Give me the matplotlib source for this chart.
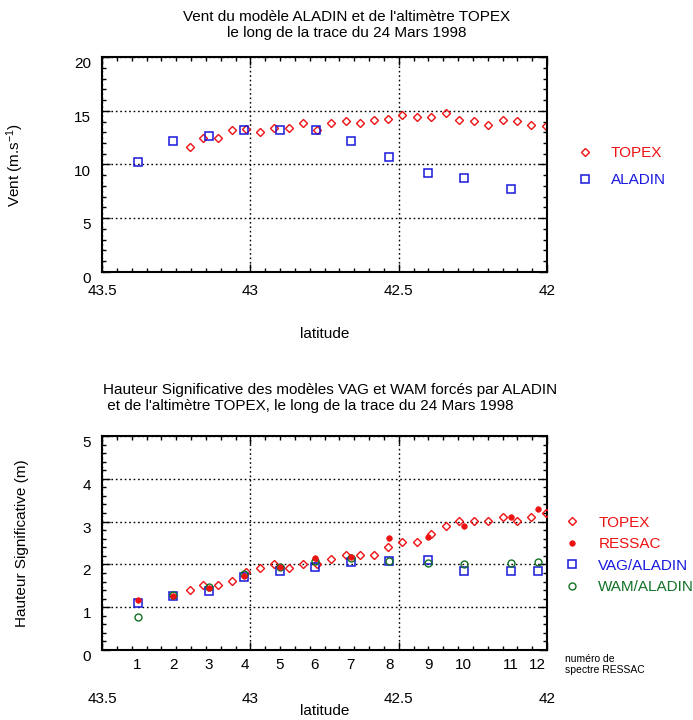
import matplotlib
matplotlib.use("Agg")
import matplotlib.pyplot as plt
from matplotlib.ticker import MultipleLocator

plt.rcParams['font.family'] = ['Liberation Sans', 'DejaVu Sans']
plt.rcParams['mathtext.default'] = 'regular'

# ---------------- data ----------------
topex_lat = [43.204, 43.159, 43.110, 43.063, 43.016, 42.966, 42.920, 42.870, 42.822,
             42.775, 42.727, 42.678, 42.630, 42.583, 42.536, 42.488, 42.438, 42.390,
             42.342, 42.295, 42.245, 42.198, 42.149, 42.102, 42.053, 42.005]
topex_wind = [11.6, 12.5, 12.5, 13.2, 13.35, 13.0, 13.45, 13.45, 13.9,
              13.2, 13.9, 14.1, 13.9, 14.15, 14.25, 14.65, 14.4, 14.45,
              14.8, 14.15, 14.05, 13.7, 14.15, 14.05, 13.7, 13.6]
topex_hs = [1.40, 1.52, 1.52, 1.61, 1.83, 1.91, 2.02, 1.91, 2.02,
            2.00, 2.12, 2.21, 2.21, 2.21, 2.41, 2.52, 2.52, 2.71,
            2.90, 3.02, 3.02, 3.02, 3.11, 3.02, 3.11, 3.21]

aladin_lat = [43.380, 43.260, 43.140, 43.020, 42.900, 42.780, 42.660, 42.531, 42.401, 42.281, 42.120]
aladin_wind = [10.2, 12.2, 12.7, 13.2, 13.2, 13.2, 12.2, 10.7, 9.2, 8.7, 7.7]

ressac_lat = [43.380, 43.260, 43.140, 43.020, 42.900, 42.783, 42.662, 42.531, 42.401, 42.281, 42.121, 42.031]
ressac_hs = [1.17, 1.26, 1.46, 1.74, 1.95, 2.16, 2.18, 2.62, 2.64, 2.90, 3.10, 3.29]
vag_hs = [1.09, 1.26, 1.39, 1.70, 1.85, 1.93, 2.05, 2.08, 2.11, 1.85, 1.85, 1.85]
wam_hs = [0.78, 1.28, 1.48, 1.78, 1.95, 2.09, 2.14, 2.08, 2.04, 2.02, 2.04, 2.06]
spectre_labels = ['1', '2', '3', '4', '5', '6', '7', '8', '9', '10', '11', '12']

lat_ticks = [43.5, 43.0, 42.5, 42.0]
lat_labels = ['43.5', '43', '42.5', '42']
wind_ticks = [0, 5, 10, 15, 20]
hs_ticks = [0, 1, 2, 3, 4, 5]

RED = '#ee1111'
BLUE = '#1818dd'
GREEN = '#137226'

W, H = 693, 720
fig = plt.figure(figsize=(W / 100, H / 100), dpi=100)

def style_axes(ax, yminor):
    ax.set_xlim(43.5, 42.0)
    ax.xaxis.set_minor_locator(MultipleLocator(0.05))
    ax.yaxis.set_minor_locator(MultipleLocator(yminor))
    ax.tick_params(which='both', direction='in', top=True, right=True, width=1,
                   labelsize=11)
    ax.tick_params(which='major', length=6)
    ax.tick_params(which='minor', length=3)
    for s in ax.spines.values():
        s.set_linewidth(1.5)
    ax.grid(True, which='major', color='k', linestyle=(0, (1.2, 2.0)), linewidth=1)
    ax.set_axisbelow(True)

# ---------------- top panel ----------------
ax1 = fig.add_axes([102 / W, 1 - 271.7 / H, 445 / W, 214.4 / H])
style_axes(ax1, 1)
ax1.set_ylim(0, 20)
ax1.set_xticks(lat_ticks, lat_labels)
ax1.set_yticks(wind_ticks, [str(t) for t in wind_ticks], va='top')
ax1.tick_params(axis='x', which='major', pad=8.5)
ax1.tick_params(axis='y', which='major', pad=8)

ax1.plot(topex_lat, topex_wind, linestyle='none', marker='D', ms=4.5, mfc='none',
         mec=RED, mew=1, label='TOPEX')
ax1.plot(aladin_lat, aladin_wind, linestyle='none', marker='s', ms=6.2, mfc='none',
         mec=BLUE, mew=1.1, label='ALADIN')

ax1.set_xlabel('latitude', fontsize=11)
ax1.xaxis.set_label_coords(0.5, -0.258)
ax1.set_ylabel('Vent (m.s$^{-1}$)', fontsize=11)
ax1.yaxis.set_label_coords(-0.170, 0.5)

ax1.legend(loc='center left', bbox_to_anchor=(1.068, 0.491), frameon=False,
           fontsize=11, handlelength=1.0, handletextpad=1.2, labelspacing=0.85,
           borderpad=0, borderaxespad=0, numpoints=1, labelcolor=[RED, BLUE])

fig.text(346.5 / W, 1 - 25 / H,
         "Vent du modèle ALADIN et de l'altimètre TOPEX\nle long de la trace du 24 Mars 1998",
         ha='center', va='center', fontsize=11, linespacing=1.15)

# ---------------- bottom panel ----------------
ax2 = fig.add_axes([102 / W, 1 - 650 / H, 445 / W, 214 / H])
style_axes(ax2, 0.2)
ax2.set_ylim(0, 5)
ax2.set_xticks(lat_ticks, lat_labels)
ax2.set_yticks(hs_ticks, [str(t) for t in hs_ticks], va='top')
ax2.tick_params(axis='x', which='major', pad=30)
ax2.tick_params(axis='y', which='major', pad=8)

ax2.plot(topex_lat, topex_hs, linestyle='none', marker='D', ms=4.3, mfc='none',
         mec=RED, mew=1, label='TOPEX', zorder=3)
ax2.plot(ressac_lat, ressac_hs, linestyle='none', marker='o', ms=4, mfc=RED,
         mec=RED, mew=0.5, label='RESSAC', zorder=4)
ax2.plot(ressac_lat, vag_hs, linestyle='none', marker='s', ms=6, mfc='none',
         mec=BLUE, mew=1.1, label='VAG/ALADIN', zorder=3)
ax2.plot(ressac_lat, wam_hs, linestyle='none', marker='o', ms=5, mfc='none',
         mec=GREEN, mew=1, label='WAM/ALADIN', zorder=3)

sec = ax2.secondary_xaxis('bottom')
sec.set_xticks(ressac_lat, spectre_labels)
sec.tick_params(length=0, pad=6, labelsize=11)
sec.spines['bottom'].set_visible(False)

ax2.set_xlabel('latitude', fontsize=11)
ax2.xaxis.set_label_coords(0.5, -0.252)
ax2.set_ylabel('Hauteur Significative (m)', fontsize=11)
ax2.yaxis.set_label_coords(-0.163, 0.5)

ax2.legend(loc='center left', bbox_to_anchor=(1.040, 0.444), frameon=False,
           fontsize=11, handlelength=1.0, handletextpad=1.2, labelspacing=0.5,
           borderpad=0, borderaxespad=0, numpoints=1,
           labelcolor=[RED, RED, BLUE, GREEN])

ax2.text(1.04, -0.068, 'numéro de\nspectre RESSAC', transform=ax2.transAxes,
         ha='left', va='center', fontsize=7.5, linespacing=1.2)

fig.text(103 / W, 1 - 398 / H,
         "Hauteur Significative des modèles VAG et WAM forcés par ALADIN\n"
         " et de l'altimètre TOPEX, le long de la trace du 24 Mars 1998",
         ha='left', va='center', fontsize=11, linespacing=1.25, multialignment='left')

fig.savefig('out.png', dpi=100)
